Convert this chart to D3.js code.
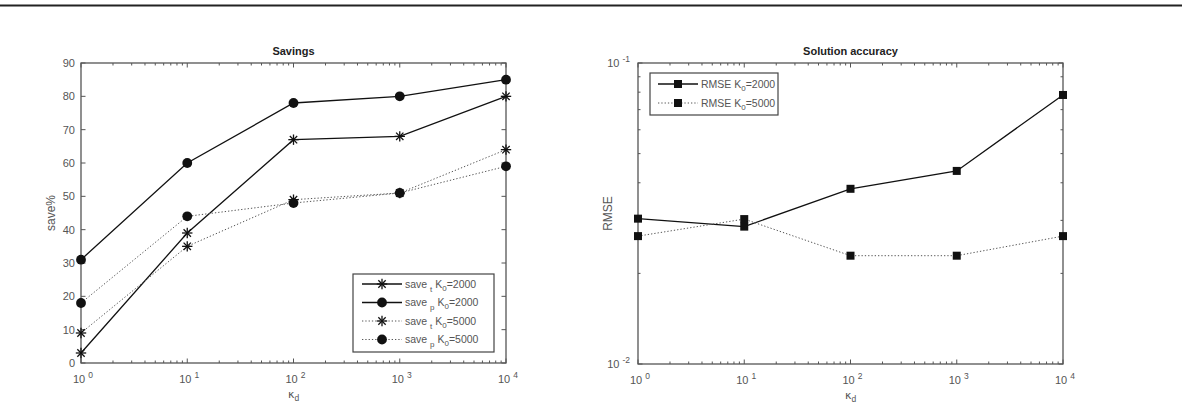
<!DOCTYPE html>
<html><head><meta charset="utf-8">
<script src="https://cdn.jsdelivr.net/npm/d3@7"></script>
<style>body{margin:0;background:#fff;} svg{display:block;}</style>
</head><body>
<script>
const kappa = [1, 10, 100, 1000, 10000];
const saveT2000 = [3, 39, 67, 68, 80];
const saveP2000 = [31, 60, 78, 80, 85];
const saveT5000 = [9, 35, 49, 51, 64];
const saveP5000 = [18, 44, 48, 51, 59];
const rmse2000 = [0.0304, 0.0286, 0.0382, 0.0438, 0.0783];
const rmse5000 = [0.0266, 0.0303, 0.0229, 0.0229, 0.0266];
const saveTicks = [0,10,20,30,40,50,60,70,80,90];
const xTickExps = [0,1,2,3,4];

const W=1182,H=405;
const svg=d3.select("body").append("svg").attr("width",W).attr("height",H);
const FONT="Liberation Sans, Arial, sans-serif";
const AX="#555";

svg.append("line").attr("x1",0).attr("x2",W).attr("y1",5.5).attr("y2",5.5).attr("stroke","#222").attr("stroke-width",2.2);

function minorTicks(lo,hi){
  const out=[];
  for(let e=lo;e<hi;e++) for(let m=2;m<=9;m++) out.push(m*Math.pow(10,e));
  return out;
}

function sup(g, base, exp, x, y, anchor){
  const t=g.append("text").attr("x",x).attr("y",y).attr("font-family",FONT).attr("font-size",11).attr("fill",AX).attr("text-anchor",anchor);
  t.append("tspan").text(base+" ");
  t.append("tspan").attr("dy",-5).attr("font-size",8.5).text(exp);
  return t;
}

function star(g,x,y){
  const r=5.2;
  const p=g.append("g").attr("transform",`translate(${x},${y})`);
  for(let i=0;i<4;i++){
    const a=i*Math.PI/4;
    p.append("line").attr("x1",-r*Math.cos(a)).attr("y1",-r*Math.sin(a)).attr("x2",r*Math.cos(a)).attr("y2",r*Math.sin(a)).attr("stroke","#111").attr("stroke-width",1.3);
  }
}
function circ(g,x,y){ g.append("circle").attr("cx",x).attr("cy",y).attr("r",4.9).attr("fill","#111"); }
function sq(g,x,y){ g.append("rect").attr("x",x-4).attr("y",y-4).attr("width",8).attr("height",8).attr("fill","#111"); }

function frame(g,x,y,left,right,top,bottom,title,ylabel){
  const minor=minorTicks(0,4);
  [bottom,top].forEach((yy,i)=>{
    const dir=i===0?-1:1;
    minor.forEach(v=>g.append("line").attr("x1",x(v)).attr("x2",x(v)).attr("y1",yy).attr("y2",yy+dir*2.5).attr("stroke",AX).attr("stroke-width",1));
    kappa.forEach(v=>g.append("line").attr("x1",x(v)).attr("x2",x(v)).attr("y1",yy).attr("y2",yy+dir*4.5).attr("stroke",AX).attr("stroke-width",1));
  });
  g.append("rect").attr("x",left).attr("y",top).attr("width",right-left).attr("height",bottom-top).attr("fill","none").attr("stroke","#555").attr("stroke-width",1.3);
  xTickExps.forEach(e=>sup(g,"10",String(e),x(Math.pow(10,e))+2,bottom+20,"middle"));
  g.append("text").attr("x",(left+right)/2).attr("y",top-8).attr("text-anchor","middle").attr("font-family",FONT).attr("font-weight","bold").attr("font-size",11).attr("fill","#222").text(title);
  g.append("text").attr("transform",`translate(${left-26},${(top+bottom)/2}) rotate(-90)`).attr("text-anchor","middle").attr("font-family",FONT).attr("font-size",12).attr("fill",AX).text(ylabel);
  const xl=g.append("text").attr("x",(left+right)/2).attr("y",bottom+35).attr("text-anchor","middle").attr("font-family","DejaVu Sans, sans-serif").attr("font-size",11).attr("fill",AX);
  xl.append("tspan").text("κ");
  xl.append("tspan").attr("dy",3).attr("font-size",8.5).attr("font-family",FONT).text("d");
}

// ---------- Left plot ----------
{
  const L=81,R=506,T=63,B=363;
  const x=d3.scaleLog().domain([1,1e4]).range([L,R]);
  const y=d3.scaleLinear().domain([0,90]).range([B,T]);
  const g=svg.append("g");
  saveTicks.forEach(v=>{
    g.append("line").attr("x1",L).attr("x2",L+4.5).attr("y1",y(v)).attr("y2",y(v)).attr("stroke",AX);
    g.append("line").attr("x1",R).attr("x2",R-4.5).attr("y1",y(v)).attr("y2",y(v)).attr("stroke",AX);
    g.append("text").attr("x",L-6).attr("y",y(v)+4).attr("text-anchor","end").attr("font-family",FONT).attr("font-size",11).attr("fill",AX).text(v);
  });
  frame(g,x,y,L,R,T,B,"Savings","save%");
  const line=d3.line().x((d,i)=>x(kappa[i])).y(d=>y(d));
  const series=[
    {d:saveT2000,dash:null,m:star},
    {d:saveP2000,dash:null,m:circ},
    {d:saveT5000,dash:"1.3,2",m:star},
    {d:saveP5000,dash:"1.3,2",m:circ}
  ];
  series.forEach(s=>{
    g.append("path").attr("d",line(s.d)).attr("fill","none").attr("stroke",s.dash?"#555":"#111").attr("stroke-width",s.dash?1:1.3).attr("stroke-dasharray",s.dash);
    s.d.forEach((v,i)=>s.m(g,x(kappa[i]),y(v)));
  });
  const lx=353,ly=274,lw=141,lh=78;
  g.append("rect").attr("x",lx).attr("y",ly).attr("width",lw).attr("height",lh).attr("fill","#fff").attr("stroke","#444").attr("stroke-width",1.2);
  const labels=[["t","2000"],["p","2000"],["t","5000"],["p","5000"]];
  series.forEach((s,i)=>{
    const yy=ly+10+i*18.5;
    g.append("line").attr("x1",lx+9).attr("x2",lx+49).attr("y1",yy).attr("y2",yy).attr("stroke",s.dash?"#555":"#111").attr("stroke-width",s.dash?1:1.3).attr("stroke-dasharray",s.dash);
    s.m(g,lx+29,yy);
    const t=g.append("text").attr("x",lx+52).attr("y",yy+3.5).attr("font-family",FONT).attr("font-size",10.5).attr("fill",AX);
    t.append("tspan").text("save ");
    t.append("tspan").attr("dy",4).attr("font-size",8).text(labels[i][0]);
    t.append("tspan").attr("dy",-4).text(" K");
    t.append("tspan").attr("dy",3).attr("font-size",8).text("0");
    t.append("tspan").attr("dy",-3).text("="+labels[i][1]);
  });
}

// ---------- Right plot ----------
{
  const L=638,R=1063,T=63,B=364;
  const x=d3.scaleLog().domain([1,1e4]).range([L,R]);
  const y=d3.scaleLog().domain([0.01,0.1]).range([B,T]);
  const g=svg.append("g");
  [0.01,0.1].forEach(v=>{
    [[L,1],[R,-1]].forEach(([xx,d])=>g.append("line").attr("x1",xx).attr("x2",xx+d*4.5).attr("y1",y(v)).attr("y2",y(v)).attr("stroke",AX));
  });
  minorTicks(-2,-1).forEach(v=>{
    [[L,1],[R,-1]].forEach(([xx,d])=>g.append("line").attr("x1",xx).attr("x2",xx+d*2.5).attr("y1",y(v)).attr("y2",y(v)).attr("stroke",AX));
  });
  sup(g,"10","-1",L-8,y(0.1)+4,"end");
  sup(g,"10","-2",L-8,y(0.01)+4,"end");
  frame(g,x,y,L,R,T,B,"Solution accuracy","RMSE");
  const line=d3.line().x((d,i)=>x(kappa[i])).y(d=>y(d));
  const series=[{d:rmse2000,dash:null,k:"2000"},{d:rmse5000,dash:"1.3,2",k:"5000"}];
  series.forEach(s=>{
    g.append("path").attr("d",line(s.d)).attr("fill","none").attr("stroke",s.dash?"#555":"#111").attr("stroke-width",s.dash?1:1.3).attr("stroke-dasharray",s.dash);
    s.d.forEach((v,i)=>sq(g,x(kappa[i]),y(v)));
  });
  const lx=650,ly=73,lw=128,lh=42;
  g.append("rect").attr("x",lx).attr("y",ly).attr("width",lw).attr("height",lh).attr("fill","#fff").attr("stroke","#444").attr("stroke-width",1.2);
  series.forEach((s,i)=>{
    const yy=ly+11+i*19;
    g.append("line").attr("x1",lx+8).attr("x2",lx+48).attr("y1",yy).attr("y2",yy).attr("stroke",s.dash?"#555":"#111").attr("stroke-width",s.dash?1:1.3).attr("stroke-dasharray",s.dash);
    sq(g,lx+28,yy);
    const t=g.append("text").attr("x",lx+51).attr("y",yy+3.5).attr("font-family",FONT).attr("font-size",10.5).attr("fill",AX);
    t.append("tspan").text("RMSE K");
    t.append("tspan").attr("dy",3).attr("font-size",8).text("0");
    t.append("tspan").attr("dy",-3).text("="+s.k);
  });
}
</script>
</body></html>
